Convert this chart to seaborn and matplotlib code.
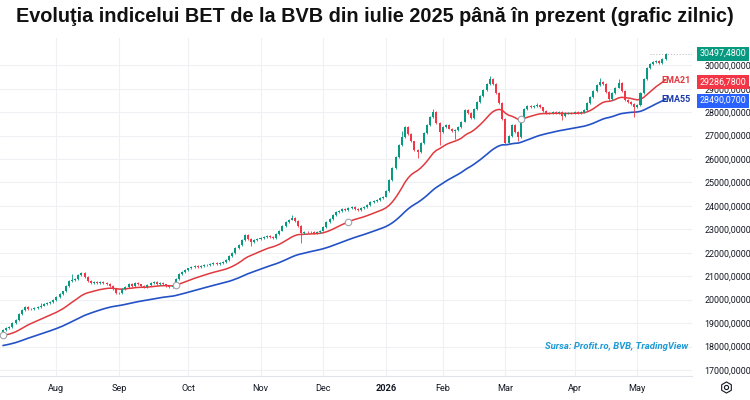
import numpy as np
import pandas as pd
import matplotlib
matplotlib.use("Agg")
import matplotlib.pyplot as plt
import matplotlib.transforms as mtransforms
from matplotlib.lines import Line2D
import seaborn as sns

# trading calendar (BVB)
first_day = "2025-07-09"
last_day = "2026-05-15"
bvb_holidays = ["2025-08-15", "2025-12-01", "2025-12-25", "2025-12-26",
                "2026-01-01", "2026-01-02", "2026-01-06", "2026-01-07",
                "2026-04-10", "2026-04-13", "2026-05-01"]
month_labels = ["Aug", "Sep", "Oct", "Nov", "Dec", "2026", "Feb", "Mar", "Apr", "May"]

# daily BET values
opens = [
    18620, 18700, 18780, 18850, 19000, 19150, 19380, 19550, 19680, 19620,
    19600, 19650, 19700, 19750, 19800, 19850, 19900, 20000, 20100, 20250,
    20350, 20600, 20800, 20850, 20880, 21050, 21130, 20950, 20780, 20700,
    20750, 20720, 20760, 20700, 20680, 20600, 20450, 20300, 20280, 20450,
    20550, 20680, 20600, 20700, 20650, 20580, 20520, 20620, 20700, 20750,
    20680, 20720, 20650, 20600, 20550, 20560, 20900, 21100, 21180, 21250,
    21330, 21380, 21420, 21400, 21450, 21500, 21480, 21520, 21560, 21540,
    21580, 21620, 21700, 21850, 22000, 22200, 22350, 22550, 22750, 22600,
    22450, 22550, 22600, 22620, 22680, 22720, 22680, 22620, 22800, 22950,
    23150, 23300, 23420, 23480, 23350, 23150, 22850, 22900, 22870, 22880,
    22850, 22900, 22950, 23100, 23300, 23450, 23600, 23750, 23800, 23850,
    23820, 23900, 23950, 23880, 23820, 23900, 23950, 24050, 24150, 24200,
    24250, 24350, 24400, 24650, 25100, 25600, 26100, 26600, 26950, 27350,
    27050, 26750, 26400, 26300, 26700, 27100, 27450, 27800, 28000, 27550,
    27150, 27350, 27450, 27300, 27200, 27250, 27350, 27600, 28100, 27950,
    27750, 28150, 28450, 28700, 28950, 29200, 29400, 29200, 28800, 28400,
    27700, 26700, 27000, 27450, 27150, 26950, 27700, 28150, 28250, 28200,
    28250, 28300, 28200, 28050, 27950, 27980, 28000, 27950, 28000, 27850,
    27950, 27970, 27950, 28000, 27980, 28020, 28100, 28400, 28650, 28900,
    29150, 29300, 29200, 28850, 28550, 28800, 29050, 29250, 28900, 28500,
    28450, 28350, 28200, 28300, 28800, 29400, 29900, 30050, 30150, 30200,
    30100, 30250]
closes = [
    18700, 18780, 18850, 19000, 19150, 19380, 19550, 19680, 19620, 19600,
    19650, 19700, 19750, 19800, 19850, 19900, 20000, 20100, 20250, 20350,
    20600, 20800, 20850, 20880, 21050, 21130, 20950, 20780, 20700, 20750,
    20720, 20760, 20700, 20680, 20600, 20450, 20300, 20280, 20450, 20550,
    20680, 20600, 20700, 20650, 20580, 20520, 20620, 20700, 20750, 20680,
    20720, 20650, 20600, 20550, 20560, 20900, 21100, 21180, 21250, 21330,
    21380, 21420, 21400, 21450, 21500, 21480, 21520, 21560, 21540, 21580,
    21620, 21700, 21850, 22000, 22200, 22350, 22550, 22750, 22600, 22450,
    22550, 22600, 22620, 22680, 22720, 22680, 22620, 22800, 22950, 23150,
    23300, 23420, 23480, 23350, 23150, 22850, 22900, 22870, 22880, 22850,
    22900, 22950, 23100, 23300, 23450, 23600, 23750, 23800, 23850, 23820,
    23900, 23950, 23880, 23820, 23900, 23950, 24050, 24150, 24200, 24250,
    24350, 24400, 24650, 25100, 25600, 26100, 26600, 26950, 27350, 27050,
    26750, 26400, 26300, 26700, 27100, 27450, 27800, 28000, 27550, 27150,
    27350, 27450, 27300, 27200, 27250, 27350, 27600, 28100, 27950, 27750,
    28150, 28450, 28700, 28950, 29200, 29400, 29200, 28800, 28400, 27700,
    26700, 27000, 27450, 27150, 26950, 27700, 28150, 28250, 28200, 28250,
    28300, 28200, 28050, 27950, 27980, 28000, 27950, 28000, 27850, 27950,
    27970, 27950, 28000, 27980, 28020, 28100, 28400, 28650, 28900, 29150,
    29300, 29200, 28850, 28550, 28800, 29050, 29250, 28900, 28500, 28450,
    28350, 28200, 28300, 28800, 29400, 29900, 30050, 30150, 30200, 30100,
    30250, 30497.48]
# typical wick length, plus the longer wicks that stand out
wick_default = 40
long_wicks_up = {12: 120, 22: 250, 92: 120, 127: 250, 137: 150, 155: 150,
                 170: 100, 190: 150, 196: 150}
long_wicks_dn = {79: 150, 95: 450, 132: 250, 139: 550, 144: 350, 160: 100,
                 164: 200, 178: 200, 201: 400}

# EMA levels carried in from before the window
ema21_seed = 18450
ema55_seed = 18020
ema_marker_idx = [0, 55, 110, 165]

last_price = 30497.48
ema21_last = 29286.78
ema55_last = 28490.07
last_price_txt = "30497,4800"
ema21_txt = "29286,7800"
ema55_txt = "28490,0700"
y_ticks = list(range(17000, 31000, 1000))

title = "Evoluţia indicelui BET de la BVB din iulie 2025 până în prezent (grafic zilnic)"
source = "Sursa: Profit.ro, BVB, TradingView"

GREEN = "#089981"
RED = "#f23645"
EMA21_COL = "#e0393e"
EMA55_COL = "#2452c6"


def ema(values, span, seed):
    alpha = 2 / (span + 1)
    out, prev = [], seed
    for v in values:
        prev = alpha * v + (1 - alpha) * prev
        out.append(prev)
    return out


def main():
    days = pd.bdate_range(first_day, last_day)
    days = days[~days.isin(pd.to_datetime(bvb_holidays))]
    assert len(days) == len(closes) == len(opens)

    df = pd.DataFrame({"date": days, "open": opens, "close": closes})
    df["idx"] = np.arange(len(df))
    df["top"] = df[["open", "close"]].max(axis=1)
    df["bot"] = df[["open", "close"]].min(axis=1)
    df["high"] = df["top"] + df["idx"].map(lambda i: long_wicks_up.get(i, wick_default))
    df["low"] = df["bot"] - df["idx"].map(lambda i: long_wicks_dn.get(i, wick_default))
    df["ema21"] = ema(df["close"], 21, ema21_seed)
    df["ema55"] = ema(df["close"], 55, ema55_seed)
    colors = np.where(df["close"] >= df["open"], GREEN, RED)

    month_first = df.groupby(df["date"].dt.to_period("M"))["idx"].min().values[1:]

    sns.set_theme(style="white")
    plt.rcParams["font.family"] = ["Roboto", "DejaVu Sans"]

    fig = plt.figure(figsize=(7.5, 4), dpi=100)
    ax = fig.add_axes([0, 0.06, 692 / 750, 0.845])

    ax.vlines(df["idx"], df["low"], df["high"], colors=colors, lw=0.6, zorder=3)
    ax.bar(df["idx"], (df["top"] - df["bot"]).clip(lower=20), bottom=df["bot"],
           width=0.64, color=colors, lw=0, zorder=3)

    sns.lineplot(data=df, x="idx", y="ema55", color=EMA55_COL, lw=1.2, ax=ax, zorder=2)
    sns.lineplot(data=df, x="idx", y="ema21", color=EMA21_COL, lw=1.1, ax=ax, zorder=2)
    mk = df.loc[ema_marker_idx]
    ax.scatter(mk["idx"], mk["ema21"], s=22, facecolor="white", edgecolor="#a0a4ab",
               lw=0.8, zorder=4)

    ax.set_xlim(-0.95, 219.4)
    ax.set_ylim(16744, 31163)
    ax.set_xlabel("")
    ax.set_ylabel("")

    ax.grid(True, color="#eef0f4", lw=0.8)
    ax.set_axisbelow(True)
    for s in ["top", "left", "right"]:
        ax.spines[s].set_visible(False)
    ax.spines["bottom"].set_color("#e0e3eb")
    ax.spines["bottom"].set_linewidth(0.8)

    ax.yaxis.tick_right()
    ax.set_yticks(y_ticks)
    ax.set_yticklabels([f"{v},0000" for v in y_ticks])
    ax.tick_params(axis="y", length=0, pad=9, labelsize=6.4, labelcolor="#131722")
    ax.set_xticks(month_first)
    ax.set_xticklabels(month_labels)
    ax.tick_params(axis="x", length=0, pad=6, labelsize=6.6, labelcolor="#131722")
    for lab in ax.get_xticklabels():
        if lab.get_text() == "2026":
            lab.set_fontweight("bold")

    # last price line, right of the latest candle
    ax.hlines(last_price, df["idx"].iloc[-6], 219.4, color="#b2b5be", lw=0.7,
              linestyles=[(0, (1, 2))], zorder=1)

    tr = mtransforms.blended_transform_factory(ax.transAxes, ax.transData)
    for val, txt, col in [(last_price, last_price_txt, GREEN),
                          (ema21_last, ema21_txt, RED),
                          (ema55_last, ema55_txt, "#2962ff")]:
        ax.text(1.011, val, txt, transform=tr, ha="left", va="center", fontsize=6.4,
                color="white", clip_on=False, zorder=6,
                bbox=dict(boxstyle="square,pad=0.28", fc=col, ec="none"))
    ax.text(0.998, ema21_last + 60, "EMA21", transform=tr, ha="right", va="center",
            fontsize=6.5, fontweight="bold", color=EMA21_COL, zorder=6)
    ax.text(0.998, ema55_last + 40, "EMA55", transform=tr, ha="right", va="center",
            fontsize=6.5, fontweight="bold", color="#1c3aa9", zorder=6)

    ax.text(0.994, 0.086, source, transform=ax.transAxes, ha="right", va="center",
            fontsize=6.8, fontstyle="italic", fontweight="bold", color="#1c9ad6")

    fig.text(0.5, 1 - 17 / 400, title, ha="center", va="center", fontsize=14.3,
             fontweight="bold", color="#111111", family=["Liberation Sans", "DejaVu Sans"])

    # settings icon of the price scale
    fig.add_artist(Line2D([726 / 750], [1 - 387 / 400], marker="h", ms=8, mfc="none",
                          mec="#131722", mew=0.8, transform=fig.transFigure))
    fig.add_artist(Line2D([726 / 750], [1 - 387 / 400], marker="o", ms=3, mfc="none",
                          mec="#131722", mew=0.8, transform=fig.transFigure))

    fig.savefig("out.png", dpi=100)


if __name__ == "__main__":
    main()
